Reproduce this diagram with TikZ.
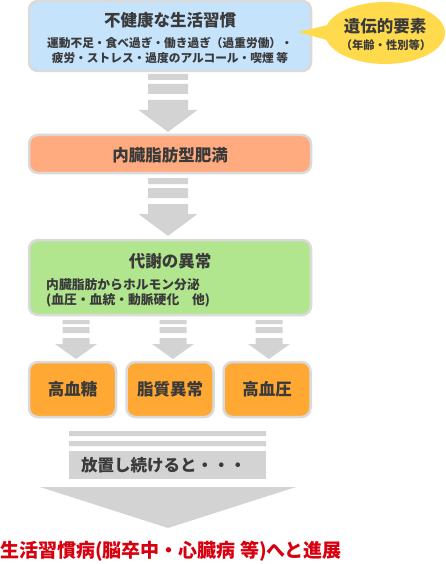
\documentclass[tikz,border=0pt]{standalone}
\usepackage{fontspec}
\setmainfont{Noto Sans CJK JP}
\usetikzlibrary{shapes.geometric}
\definecolor{boxline}{HTML}{DADADA}
\definecolor{bluefill}{HTML}{C6E3FC}
\definecolor{salmonfill}{HTML}{FFAB7F}
\definecolor{greenfill}{HTML}{B1E68F}
\definecolor{orangefill}{HTML}{FFA833}
\definecolor{calloutfill}{HTML}{FFDA4D}
\definecolor{arrowgray}{HTML}{D3D3D3}
\definecolor{textgray}{HTML}{3A3A3A}
\definecolor{alertred}{HTML}{D7000F}
\newcommand{\fsz}[1]{\bfseries\fontsize{#1}{#1}\selectfont}
\begin{document}
\begin{tikzpicture}[
            x=1pt,
            y=-1pt,
            box/.style={draw=boxline,line width=2.5pt,rounded corners=9pt,inner sep=0pt},
            txt/.style={text=textgray,inner sep=0pt},
            bigdown/.pic={
                \fill [arrowgray] (-20,0) rectangle (20,6) (-20,10) rectangle (20,20);
                \fill [arrowgray] (-20,26) -- (20,26) -- (20,36) -- (29.5,36) -- (0,58) -- (-29.5,36) -- (-20,36) -- cycle;
            },
            smalldown/.pic={
                \fill [arrowgray] (-13.5,0) rectangle (13.5,4) (-13.5,7) rectangle (13.5,13);
                \fill [arrowgray] (-13.5,18) -- (13.5,18) -- (13.5,24) -- (21,24) -- (0,39) -- (-21,24) -- (-13.5,24) -- cycle;
            }
        ]
            \useasboundingbox (0,0) rectangle (446,564);

            % lifestyle habits
            \node [box,fill=bluefill,minimum width=282pt,minimum height=70pt] (habit) at (170,36) {};
            \node [txt,font=\fsz{16.5}] (habittitle) at (170,20) {不健康な生活習慣};
            \node [txt,font=\fsz{11.7}] (habitline1) at (170,43) {運動不足・食べ過ぎ・働き過ぎ（過重労働）・};
            \node [txt,font=\fsz{11.7}] (habitline2) at (170,58.5) {疲労・ストレス・過度のアルコール・喫煙 等};

            % heredity callout
            \fill [calloutfill] (298,32) -- (345,21) -- (345,45) -- cycle;
            \node [ellipse,fill=calloutfill,minimum width=120pt,minimum height=62pt] (gene) at (385,33) {};
            \node [txt,font=\fsz{16.5}] (genetitle) at (385,26) {遺伝的要素};
            \node [txt,font=\fsz{11.3}] (genenote) at (386,45.5) {（年齢・性別等）};

            \pic at (168,74) {bigdown};

            % visceral fat
            \node [box,fill=salmonfill,minimum width=282pt,minimum height=38pt] (fat) at (170,154) {};
            \node [txt,font=\fsz{16.5}] (fattext) at (170,155) {内臓脂肪型肥満};

            \pic at (168,178) {bigdown};

            % metabolic disorder
            \node [box,fill=greenfill,minimum width=282pt,minimum height=75pt] (meta) at (170,277.5) {};
            \node [txt,font=\fsz{16.5}] (metatitle) at (170,261) {代謝の異常};
            \node [txt,font=\fsz{12.8},anchor=west] (metaline1) at (46,285) {内臓脂肪からホルモン分泌};
            \node [txt,font=\fsz{12.8},anchor=west] (metaline2) at (46,300) {(血圧・血統・動脈硬化　他)};

            \foreach \cx in {76,173,269}
                \pic at (\cx,320) {smalldown};

            % three results
            \foreach \cx/\name/\label in {72.5/sugar/高血糖, 170/lipid/脂質異常, 267/press/高血圧}{
                \node [box,fill=orangefill,minimum width=87pt,minimum height=55pt] (\name) at (\cx,389.5) {};
                \node [txt,font=\fsz{16.5}] at (\cx,389.5) {\label};
            }

            % leave it
            \fill [arrowgray] (69,431) rectangle (266,436) (69,441) rectangle (266,446);
            \fill [arrowgray] (69,451) rectangle (266,479);
            \node [txt,font=\fsz{16.5},anchor=west] (leave) at (81,465) {放置し続けると・・・};
            \fill [arrowgray] (40,487) -- (296,487) -- (168,528) -- cycle;

            \node [inner sep=0pt,text=alertred,font=\fsz{19},anchor=west] (disease) at (0,551) {生活習慣病(脳卒中・心臓病 等)へと進展};
        \end{tikzpicture}
\end{document}
